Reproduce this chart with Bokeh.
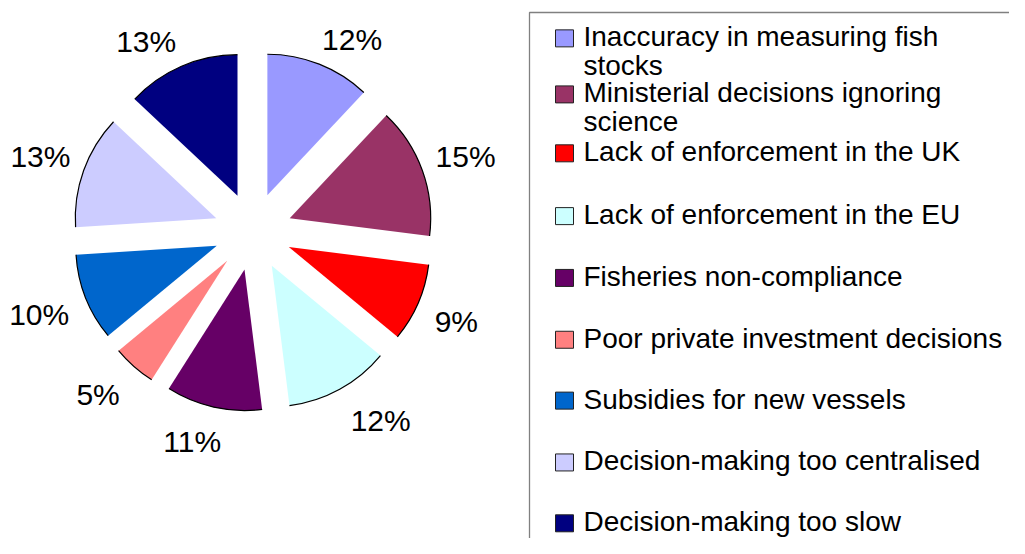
import math
from bokeh.plotting import figure
from bokeh.models import ColumnDataSource, Range1d
from bokeh.core.properties import value
from bokeh.embed import file_html
from bokeh.resources import INLINE

# ---------------- data ----------------
categories = [
    "Inaccuracy in measuring fish stocks",
    "Ministerial decisions ignoring science",
    "Lack of enforcement in the  UK",
    "Lack of enforcement in the EU",
    "Fisheries non-compliance",
    "Poor private investment decisions",
    "Subsidies for new vessels",
    "Decision-making too centralised",
    "Decision-making too slow",
]
values = [12, 15, 9, 12, 11, 5, 10, 13, 13]
colors = ["#9999FF", "#993366", "#FF0000", "#CCFFFF", "#660066",
          "#FF8080", "#0066CC", "#CCCCFF", "#000080"]
# number of words kept on the first legend line (entries that wrap)
first_line_words = [4, 3, None, None, None, None, None, None, None]

# ---------------- layout (pixel space, y down) ----------------
W, H = 1009, 538
def Y(y_px):
    return H - y_px

CX, CY = 252.5, 231.0
R = 141.0
EXPLODE = 39.0
FONT = value("Liberation Sans")

p = figure(width=W, height=H, output_backend="svg", toolbar_location=None,
           x_range=Range1d(0, W), y_range=Range1d(0, H),
           min_border=0, outline_line_color=None)
p.axis.visible = False
p.grid.visible = False
p.background_fill_color = "white"
p.border_fill_color = "white"

total = float(sum(values))
xs, ys, sa, ea, lx, ly, ltxt = [], [], [], [], [], [], []
cum = 0.0
for v in values:
    t0 = 2 * math.pi * cum / total
    t1 = 2 * math.pi * (cum + v) / total
    tm = (t0 + t1) / 2
    ux, uy = math.sin(tm), -math.cos(tm)  # screen direction, y down
    ex, ey = CX + EXPLODE * ux, CY + EXPLODE * uy
    xs.append(ex)
    ys.append(Y(ey))
    sa.append(math.pi / 2 - t0)
    ea.append(math.pi / 2 - t1)
    txt = f"{round(100 * v / total)}%"
    fs = 30.0
    hw = fs * (0.556 * (len(txt) - 1) + 0.889) / 2
    hh = 11.5
    sx = max(-1.0, min(1.0, 2.5 * ux))
    sy = max(-1.0, min(1.0, 2.5 * uy))
    r = 155 + 10 * max(uy, 0)
    cxl = ex + r * ux + hw * sx
    cyl = ey + r * uy + hh * sy
    lx.append(cxl)
    ly.append(Y(cyl))
    ltxt.append(txt)
    cum += v

src = ColumnDataSource(dict(x=xs, y=ys, sa=sa, ea=ea, color=colors))
p.wedge(x="x", y="y", radius=R, radius_units="screen", start_angle="sa", end_angle="ea",
        direction="clock", fill_color="color", line_color=None, source=src)
p.arc(x="x", y="y", radius=R, radius_units="screen", start_angle="sa", end_angle="ea",
      direction="clock", line_color="black", line_width=1.2, source=src)

p.text(x=lx, y=ly, text=ltxt, text_font=FONT, text_font_size="30px",
       text_align="center", text_baseline="middle", text_color="black")

# ---------------- legend ----------------
p.quad(left=[529], right=[1060], top=[Y(12)], bottom=[Y(600)],
       fill_color=None, line_color="#808080", line_width=1.3)

vs = 0.966  # vertical compression so the last entry fits
first_baselines = [b * vs for b in [48, 106, 167, 232, 296, 360, 423, 487, 550]]
line_gap = 30 * vs
sw_l, sw_r = 555, 573
tx = 583
cap_half = 10.0
lt_x, lt_y, lt_t = [], [], []
ql, qr, qt, qb = [], [], [], []
for i, name in enumerate(categories):
    b = first_baselines[i]
    n = first_line_words[i]
    words = name.split(" ")
    if n is None:
        lines = [name]
    else:
        lines = [" ".join(words[:n]), " ".join(words[n:])]
    for j, ln in enumerate(lines):
        lt_x.append(tx)
        lt_y.append(Y(b + j * line_gap - cap_half))
        lt_t.append(ln)
    ql.append(sw_l); qr.append(sw_r)
    qt.append(Y(b - 17)); qb.append(Y(b))

p.quad(left=ql, right=qr, top=qt, bottom=qb, fill_color=colors,
       line_color="#222222", line_width=1)
p.text(x=lt_x, y=lt_y, text=lt_t, text_font=FONT, text_font_size="28px",
       text_align="left", text_baseline="middle", text_color="black")

open("out.html", "w").write(file_html(p, INLINE))
